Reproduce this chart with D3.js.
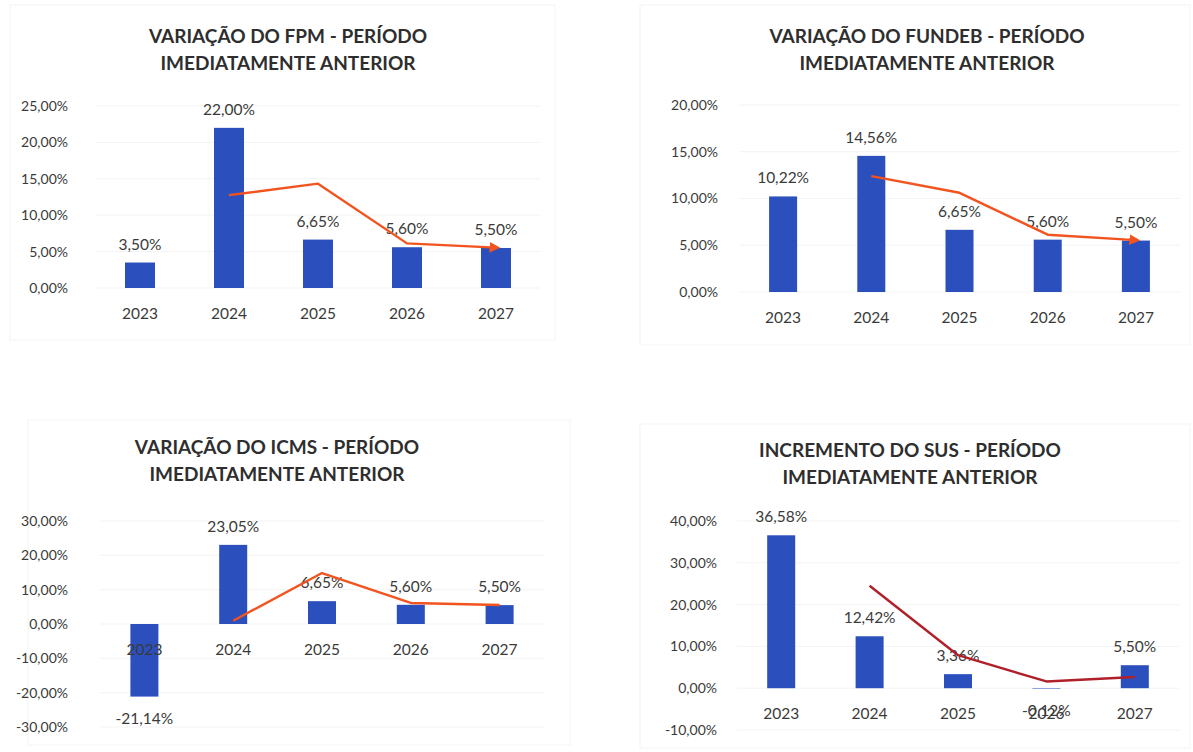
<!DOCTYPE html>
<html>
<head>
<meta charset="utf-8">
<script src="https://cdn.jsdelivr.net/npm/d3@7"></script>
<style>
  body { margin: 0; background: #fff; }
  svg text { font-family: "Lato", "Open Sans", sans-serif; fill: #3a3a3a; }
  .title { font-weight: 700; font-size: 19px; fill: #2e2e2e; }
  .tick-label { font-size: 14px; }
  .cat-label { font-size: 15.5px; }
  .data-label { font-size: 15.5px; }
</style>
</head>
<body>
<svg id="chart"></svg>
<script>
const years = ["2023", "2024", "2025", "2026", "2027"];

const fpmValues = [3.5, 22.0, 6.65, 5.6, 5.5];
const fpmTrend = [null, 12.75, 14.33, 6.13, 5.55];
const fpmTicks = [0, 5, 10, 15, 20, 25];

const fundebValues = [10.22, 14.56, 6.65, 5.6, 5.5];
const fundebTrend = [null, 12.39, 10.61, 6.13, 5.55];
const fundebTicks = [0, 5, 10, 15, 20];

const icmsValues = [-21.14, 23.05, 6.65, 5.6, 5.5];
const icmsTrend = [null, 0.96, 14.85, 6.13, 5.55];
const icmsTicks = [-30, -20, -10, 0, 10, 20, 30];

const susValues = [36.58, 12.42, 3.36, -0.12, 5.5];
const susTrend = [null, 24.5, 7.89, 1.62, 2.69];
const susTicks = [-10, 0, 10, 20, 30, 40];

const size = { width: 1193, height: 752 };
const barColor = "#2b4fbd";
const fmt = (v) => d3.format(".2f")(v).replace(".", ",").replace("−", "-") + "%";

const svg = d3.select("#chart").attr("width", size.width).attr("height", size.height);

svg.append("defs").append("marker")
  .attr("id", "arrow")
  .attr("viewBox", "0 0 10 10")
  .attr("refX", 6).attr("refY", 5)
  .attr("markerWidth", 4.5).attr("markerHeight", 4.5)
  .attr("orient", "auto")
  .append("path")
  .attr("d", "M0,0 L10,5 L0,10 z")
  .attr("fill", "#f2531f");

const charts = [
  {
    title: ["VARIAÇÃO DO FPM - PERÍODO", "IMEDIATAMENTE ANTERIOR"],
    values: fpmValues, trend: fpmTrend, ticks: fpmTicks,
    box: [10, 5, 555, 340], titleX: 288, titleY: 43,
    xRange: [95.5, 540.5], yRange: [288, 106], axisX: 68,
    barW: 30, lineColor: "#f2531f", arrow: true
  },
  {
    title: ["VARIAÇÃO DO FUNDEB - PERÍODO", "IMEDIATAMENTE ANTERIOR"],
    values: fundebValues, trend: fundebTrend, ticks: fundebTicks,
    box: [640, 5, 1190, 345], titleX: 927, titleY: 43,
    xRange: [739, 1180], yRange: [292, 105], axisX: 718,
    barW: 28, lineColor: "#f2531f", arrow: true
  },
  {
    title: ["VARIAÇÃO DO ICMS - PERÍODO", "IMEDIATAMENTE ANTERIOR"],
    values: icmsValues, trend: icmsTrend, ticks: icmsTicks,
    box: [28, 420, 570, 745], titleX: 277, titleY: 454,
    xRange: [100, 544], yRange: [727, 521], axisX: 68,
    barW: 28, lineColor: "#f2531f", arrow: false
  },
  {
    title: ["INCREMENTO DO SUS - PERÍODO", "IMEDIATAMENTE ANTERIOR"],
    values: susValues, trend: susTrend, ticks: susTicks,
    box: [640, 424, 1190, 748], titleX: 910, titleY: 457,
    xRange: [737, 1179], yRange: [730, 521], axisX: 717,
    barW: 28, lineColor: "#b0202a", arrow: false
  }
];

charts.forEach((c) => {
  const g = svg.append("g");

  g.append("rect")
    .attr("x", c.box[0]).attr("y", c.box[1])
    .attr("width", c.box[2] - c.box[0]).attr("height", c.box[3] - c.box[1])
    .attr("fill", "none").attr("stroke", "#f4f4f4");

  c.title.forEach((t, i) => {
    g.append("text").attr("class", "title")
      .attr("x", c.titleX).attr("y", c.titleY + i * 27)
      .attr("text-anchor", "middle").text(t);
  });

  const x = d3.scaleBand().domain(years).range(c.xRange);
  const y = d3.scaleLinear()
    .domain([c.ticks[0], c.ticks[c.ticks.length - 1]])
    .range(c.yRange);
  const cx = (yr) => x(yr) + x.bandwidth() / 2;

  // gridlines + y labels
  c.ticks.forEach((t) => {
    g.append("line")
      .attr("x1", c.xRange[0]).attr("x2", c.xRange[1])
      .attr("y1", y(t)).attr("y2", y(t))
      .attr("stroke", "#f3f3f3").attr("stroke-width", 1);
    g.append("text").attr("class", "tick-label")
      .attr("x", c.axisX).attr("y", y(t))
      .attr("dy", "0.35em").attr("text-anchor", "end")
      .text(fmt(t));
  });

  // bars
  g.selectAll("rect.bar")
    .data(c.values)
    .enter().append("rect")
    .attr("class", "bar")
    .attr("x", (d, i) => cx(years[i]) - c.barW / 2)
    .attr("width", c.barW)
    .attr("y", (d) => y(Math.max(0, d)))
    .attr("height", (d) => Math.abs(y(d) - y(0)))
    .attr("fill", barColor);

  // category labels
  years.forEach((yr) => {
    g.append("text").attr("class", "cat-label")
      .attr("x", cx(yr))
      .attr("y", y(0) + 31)
      .attr("text-anchor", "middle")
      .text(yr);
  });

  // data labels
  c.values.forEach((v, i) => {
    g.append("text").attr("class", "data-label")
      .attr("x", cx(years[i]))
      .attr("y", v >= 0 ? y(v) - 13 : y(v) + 27)
      .attr("text-anchor", "middle")
      .text(fmt(v));
  });

  // trend line (2-period moving average)
  const pts = c.trend
    .map((v, i) => ({ v, yr: years[i] }))
    .filter((d) => d.v !== null);
  const line = d3.line()
    .x((d) => cx(d.yr))
    .y((d) => y(d.v));
  const path = g.append("path")
    .datum(pts)
    .attr("d", line)
    .attr("fill", "none")
    .attr("stroke", c.lineColor)
    .attr("stroke-width", 2.4)
    .attr("stroke-linejoin", "round");
  if (c.arrow) path.attr("marker-end", "url(#arrow)");
});
</script>
</body>
</html>
